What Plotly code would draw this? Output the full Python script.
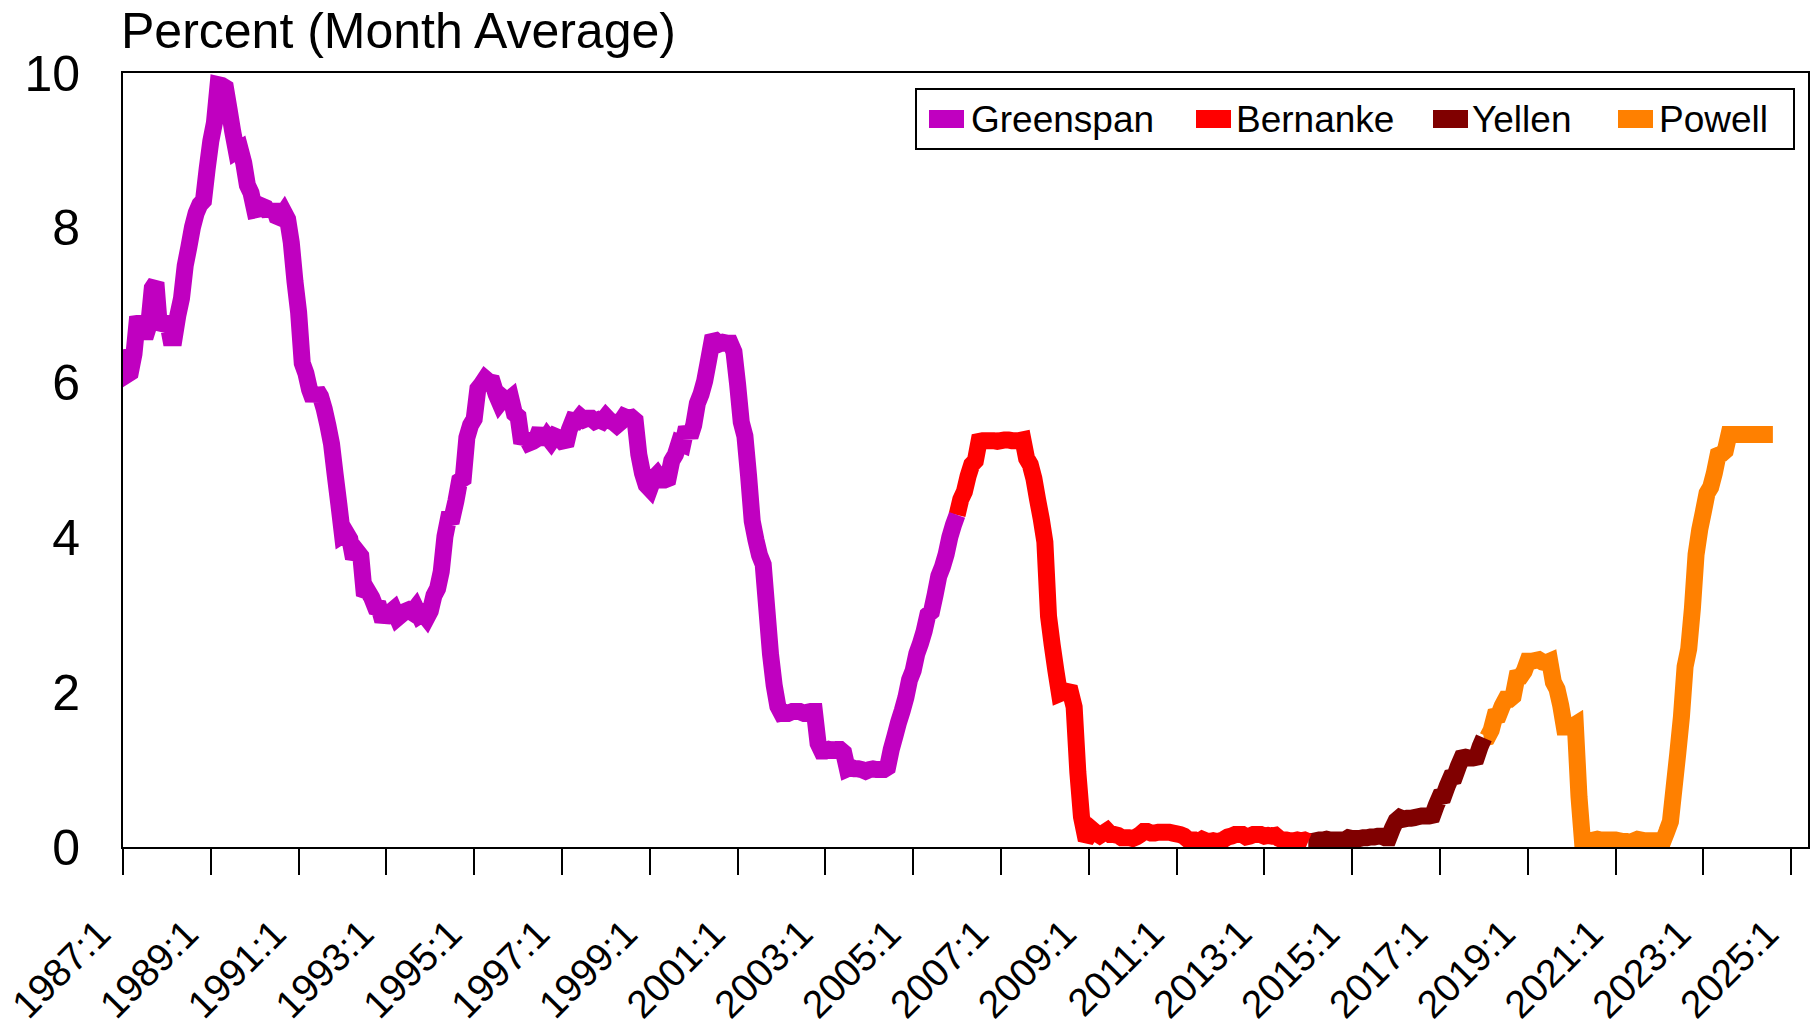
import plotly.graph_objects as go

# Effective federal funds rate, monthly average (percent), by Fed chair
start_year = 1987

# 1987:1 - 2006:1
greenspan_rates = [
    6.43, 6.10, 6.13, 6.37, 6.85, 6.73, 6.58, 6.73, 7.22, 7.29, 6.69, 6.77,
    6.83, 6.58, 6.58, 6.87, 7.09, 7.51, 7.75, 8.01, 8.19, 8.30, 8.35, 8.76,
    9.12, 9.36, 9.85, 9.84, 9.81, 9.53, 9.24, 8.99, 9.02, 8.84, 8.55, 8.45,
    8.23, 8.24, 8.28, 8.26, 8.18, 8.29, 8.15, 8.13, 8.20, 8.11, 7.81, 7.31,
    6.91, 6.25, 6.12, 5.91, 5.78, 5.90, 5.82, 5.66, 5.45, 5.21, 4.81, 4.43,
    4.03, 4.06, 3.98, 3.73, 3.82, 3.76, 3.25, 3.30, 3.22, 3.10, 3.09, 2.92,
    3.02, 3.03, 3.07, 2.96, 3.00, 3.04, 3.06, 3.03, 3.09, 2.99, 3.02, 2.96,
    3.05, 3.25, 3.34, 3.56, 4.01, 4.25, 4.26, 4.47, 4.73, 4.76, 5.29, 5.45,
    5.53, 5.92, 5.98, 6.05, 6.01, 6.00, 5.85, 5.74, 5.80, 5.76, 5.80, 5.60,
    5.56, 5.22, 5.31, 5.22, 5.24, 5.27, 5.40, 5.22, 5.30, 5.24, 5.31, 5.29,
    5.25, 5.19, 5.39, 5.51, 5.50, 5.56, 5.52, 5.54, 5.54, 5.50, 5.52, 5.50,
    5.56, 5.51, 5.49, 5.45, 5.49, 5.56, 5.54, 5.55, 5.51, 5.07, 4.83, 4.68,
    4.63, 4.76, 4.81, 4.74, 4.74, 4.76, 4.99, 5.07, 5.22, 5.20, 5.42, 5.30,
    5.45, 5.73, 5.85, 6.02, 6.27, 6.53, 6.54, 6.50, 6.52, 6.51, 6.51, 6.40,
    5.98, 5.49, 5.31, 4.80, 4.21, 3.97, 3.77, 3.65, 3.07, 2.49, 2.09, 1.82,
    1.73, 1.74, 1.73, 1.75, 1.75, 1.75, 1.73, 1.74, 1.75, 1.75, 1.34, 1.24,
    1.24, 1.26, 1.25, 1.26, 1.26, 1.22, 1.01, 1.03, 1.01, 1.01, 1.00, 0.98,
    1.00, 1.01, 1.00, 1.00, 1.00, 1.03, 1.26, 1.43, 1.61, 1.76, 1.93, 2.16,
    2.28, 2.50, 2.63, 2.79, 3.00, 3.04, 3.26, 3.50, 3.62, 3.78, 4.00, 4.16,
    4.29,
]

# 2006:1 - 2014:1
bernanke_rates = [
    4.29, 4.49, 4.59, 4.79, 4.94, 4.99, 5.24, 5.25, 5.25, 5.25, 5.25, 5.24,
    5.25, 5.26, 5.26, 5.25, 5.25, 5.25, 5.26, 5.02, 4.94, 4.76, 4.49, 4.24,
    3.94, 2.98, 2.61, 2.28, 1.98, 2.00, 2.01, 2.00, 1.81, 0.97, 0.39, 0.16,
    0.15, 0.22, 0.18, 0.15, 0.18, 0.21, 0.16, 0.16, 0.15, 0.12, 0.12, 0.12,
    0.11, 0.13, 0.16, 0.20, 0.20, 0.18, 0.18, 0.19, 0.19, 0.19, 0.19, 0.18,
    0.17, 0.16, 0.14, 0.10, 0.09, 0.09, 0.07, 0.10, 0.08, 0.07, 0.08, 0.07,
    0.08, 0.10, 0.13, 0.14, 0.16, 0.16, 0.16, 0.13, 0.14, 0.16, 0.16, 0.16,
    0.14, 0.15, 0.14, 0.15, 0.11, 0.09, 0.09, 0.08, 0.08, 0.09, 0.08, 0.09,
    0.07,
]

# 2014:1 - 2018:1
yellen_rates = [
    0.07, 0.07, 0.08, 0.09, 0.09, 0.10, 0.09, 0.09, 0.09, 0.09, 0.09, 0.12,
    0.11, 0.11, 0.11, 0.12, 0.12, 0.13, 0.13, 0.14, 0.14, 0.12, 0.12, 0.24,
    0.34, 0.38, 0.36, 0.37, 0.37, 0.38, 0.39, 0.40, 0.40, 0.40, 0.41, 0.54,
    0.65, 0.66, 0.79, 0.90, 0.91, 1.04, 1.15, 1.16, 1.15, 1.15, 1.16, 1.30,
    1.41,
]

# 2018:1 - 2024:8
powell_rates = [
    1.41, 1.42, 1.51, 1.69, 1.70, 1.82, 1.91, 1.91, 1.95, 2.19, 2.20, 2.27,
    2.40, 2.40, 2.41, 2.42, 2.39, 2.38, 2.40, 2.13, 2.04, 1.83, 1.55, 1.55,
    1.55, 1.58, 0.65, 0.05, 0.05, 0.08, 0.09, 0.10, 0.09, 0.09, 0.09, 0.09,
    0.09, 0.08, 0.07, 0.07, 0.06, 0.08, 0.10, 0.09, 0.08, 0.08, 0.08, 0.08,
    0.08, 0.08, 0.20, 0.33, 0.77, 1.21, 1.68, 2.33, 2.56, 3.08, 3.78, 4.10,
    4.33, 4.57, 4.65, 4.83, 5.06, 5.08, 5.12, 5.33, 5.33, 5.33, 5.33, 5.33,
    5.33, 5.33, 5.33, 5.33, 5.33, 5.33, 5.33, 5.33,
]

chairs = ["Greenspan", "Bernanke", "Yellen", "Powell"]
start_months = ["1987:1", "2006:1", "2014:1", "2018:1"]
colors = ["#C000C0", "#FF0000", "#800000", "#FF8000"]
series = [greenspan_rates, bernanke_rates, yellen_rates, powell_rates]

tick_labels = [f"{y}:1" for y in range(1987, 2026, 2)]


def month_index(label):
    y, m = label.split(":")
    return (int(y) - start_year) * 12 + int(m) - 1


def month_label(i):
    return f"{start_year + i // 12}:{i % 12 + 1}"


# plot frame in window pixels (page body margin is zeroed after drawing)
W, H = 1816, 1029
L, R, T, B = 123, 1808, 73, 847


def px(x):
    return (x - L) / (R - L)


def py(y):
    return (B - y) / (B - T)


fig = go.Figure()

# later chairs drawn first so the earlier segment sits on top at each join
for name, start, color, vals in reversed(list(zip(chairs, start_months, colors, series))):
    i0 = month_index(start)
    xs = list(range(i0, i0 + len(vals)))
    fig.add_trace(go.Scatter(
        x=xs, y=vals,
        mode="lines",
        name=name,
        line=dict(color=color, width=17, simplify=False),
        text=[month_label(i) for i in xs],
        hovertemplate="%{text}: %{y:.2f}<extra>" + name + "</extra>",
        showlegend=False,
    ))

fig.update_layout(
    width=W, height=H,
    margin=dict(l=L, r=W - R, t=T, b=H - B),
    paper_bgcolor="white", plot_bgcolor="white",
    font=dict(family="Liberation Sans, Arial, sans-serif", color="black"),
    showlegend=False,
)

fig.update_xaxes(
    range=[0, 460.6],
    tickmode="array",
    tickvals=[month_index(t) for t in tick_labels],
    ticktext=tick_labels,
    tickangle=-45,
    tickfont=dict(size=39),
    ticks="outside", ticklen=26, tickwidth=2, tickcolor="black",
    ticklabelstandoff=20,
    ticklabelshift=-24,
    ticklabeloverflow="allow",
    showline=True, linecolor="black", linewidth=2, mirror=True,
    showgrid=False, zeroline=False,
    automargin=False,
)

fig.update_yaxes(
    range=[0, 10],
    tickvals=[0, 2, 4, 6, 8, 10],
    tickfont=dict(size=50),
    ticks="",
    ticklabelstandoff=31,
    showline=True, linecolor="black", linewidth=2, mirror=True,
    showgrid=False, zeroline=False,
    automargin=False,
)

# axis title above the plot
fig.add_annotation(
    text="Percent (Month Average)",
    xref="paper", yref="paper", x=px(119), y=py(31),
    xanchor="left", yanchor="middle", showarrow=False,
    font=dict(size=50),
)

# legend box
fig.add_shape(type="rect", xref="paper", yref="paper",
              x0=px(916), x1=px(1794), y0=py(149), y1=py(89),
              line=dict(color="black", width=2), fillcolor="white")

swatch_x = [929, 1196, 1433, 1618]
text_x = [969, 1234, 1470, 1657]
for name, color, sx, tx in zip(chairs, colors, swatch_x, text_x):
    fig.add_shape(type="rect", xref="paper", yref="paper",
                  x0=px(sx), x1=px(sx + 35), y0=py(128), y1=py(110),
                  line=dict(width=0), fillcolor=color)
    fig.add_annotation(text=name, xref="paper", yref="paper",
                       x=px(tx), y=py(119), xanchor="left", yanchor="middle",
                       showarrow=False, font=dict(size=37))

fig.write_html("out.html", config={"displayModeBar": False},
               post_script="document.body.style.margin = '0';")
